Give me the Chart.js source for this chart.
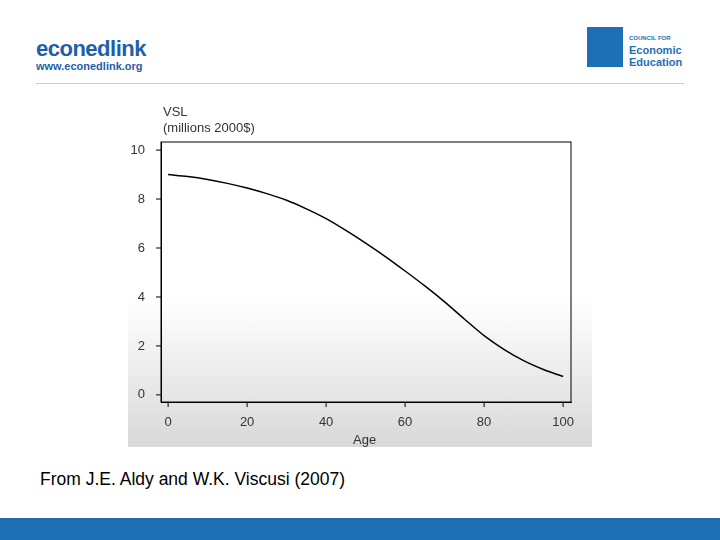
<!DOCTYPE html>
<html>
<head>
<meta charset="utf-8">
<script src="https://cdn.jsdelivr.net/npm/chart.js@4"></script>
<style>
  body { margin: 0; width: 720px; height: 540px; position: relative; background: #fff; font-family: "Liberation Sans", Arial, sans-serif; overflow: hidden; }
  #logo1 { position: absolute; left: 36px; top: 36px; color: #1f5fa8; font-weight: bold; font-size: 22px; letter-spacing: -0.5px; }
  #logo1 small { display: block; font-size: 11px; letter-spacing: 0; margin-top: -2px; }
  #logo2 { position: absolute; left: 587px; top: 27px; width: 100px; height: 48px; }
  #logo2 .box { position: absolute; left: 0; top: 0; width: 36px; height: 40px; background: #1f6fb4; }
  #logo2 .txt { position: absolute; left: 42px; top: 3px; color: #1f6fb4; font-weight: bold; font-size: 11px; line-height: 12px; }
  #logo2 .txt .s { font-size: 6px; }
  #rule { position: absolute; left: 36px; top: 83px; width: 648px; height: 1px; background: #ccc; }
  #panel { position: absolute; left: 128px; top: 95px; width: 464px; height: 352px;
           background: linear-gradient(to bottom, #fff 0%, #fff 58%, #d8d8d8 100%); }
  #ylab { position: absolute; left: 163px; top: 104px; font-size: 13px; color: #333; line-height: 16px; }
  #xlab { position: absolute; left: 353px; top: 432px; font-size: 13px; color: #333; }
  #caption { position: absolute; left: 40px; top: 469px; font-size: 17.5px; color: #000; }
  #bar { position: absolute; left: 0; top: 518px; width: 720px; height: 22px; background: #1f6fb4; }
</style>
</head>
<body>
<div id="logo1">econedlink<small>www.econedlink.org</small></div>
<div id="logo2"><div class="box"></div><div class="txt"><span class="s">COUNCIL FOR</span><br>Economic<br>Education</div></div>
<div id="rule"></div>
<div id="panel"><canvas id="c" width="464" height="352"></canvas></div>
<div id="ylab">VSL<br>(millions 2000$)</div>
<div id="xlab">Age</div>
<div id="caption">From J.E. Aldy and W.K. Viscusi (2007)</div>
<div id="bar"></div>
<script>
const ages = [0, 5, 10, 15, 20, 25, 30, 35, 40, 45, 50, 55, 60, 65, 70, 75, 80, 85, 90, 95, 100];
const vsl = [9.0, 8.92, 8.8, 8.64, 8.45, 8.22, 7.95, 7.6, 7.2, 6.72, 6.2, 5.65, 5.06, 4.45, 3.8, 3.1, 2.42, 1.86, 1.4, 1.04, 0.75];
const xTicks = [0, 20, 40, 60, 80, 100];
const yTicks = [0, 2, 4, 6, 8, 10];

const ctx = document.getElementById('c').getContext('2d');
new Chart(ctx, {
    type: 'line',
    data: {
        labels: ages,
        datasets: [{
            data: ages.map((a, i) => ({ x: a, y: vsl[i] })),
            borderColor: '#000',
            borderWidth: 1.5,
            pointRadius: 0,
            cubicInterpolationMode: 'monotone',
            fill: false
        }]
    },
    options: {
        responsive: false,
        animation: false,
        layout: { padding: { top: 47, right: 21, left: 0, bottom: 0 } },
        plugins: { legend: { display: false }, tooltip: { enabled: false } },
        scales: {
            x: {
                type: 'linear', min: -1.8, max: 102,
                afterBuildTicks: s => { s.ticks = xTicks.map(v => ({ value: v })); },
                afterFit: s => { s.height = 45; },
                grid: { display: false },
                border: { color: '#000', width: 1 },
                ticks: { color: '#333', font: { size: 13, family: 'Liberation Sans' }, padding: 5 }
            },
            y: {
                min: -0.29, max: 10.33,
                afterBuildTicks: s => { s.ticks = yTicks.map(v => ({ value: v })); },
                afterFit: s => { s.width = 33; },
                grid: { display: false },
                border: { color: '#000', width: 1 },
                ticks: { color: '#333', font: { size: 13, family: 'Liberation Sans' }, padding: 8 }
            }
        }
    },
    plugins: [{
        id: 'frame',
        afterDraw(chart) {
            const { ctx, chartArea: a, scales } = chart;
            ctx.save();
            ctx.strokeStyle = '#000';
            ctx.lineWidth = 1;
            ctx.strokeRect(a.left, a.top, a.right - a.left, a.bottom - a.top);
            ctx.beginPath();
            yTicks.forEach(v => {
                const y = scales.y.getPixelForValue(v);
                ctx.moveTo(a.left - 5, y); ctx.lineTo(a.left, y);
            });
            xTicks.forEach(v => {
                const x = scales.x.getPixelForValue(v);
                ctx.moveTo(x, a.bottom); ctx.lineTo(x, a.bottom + 5);
            });
            ctx.stroke();
            ctx.restore();
        }
    }]
});
</script>
</body>
</html>
